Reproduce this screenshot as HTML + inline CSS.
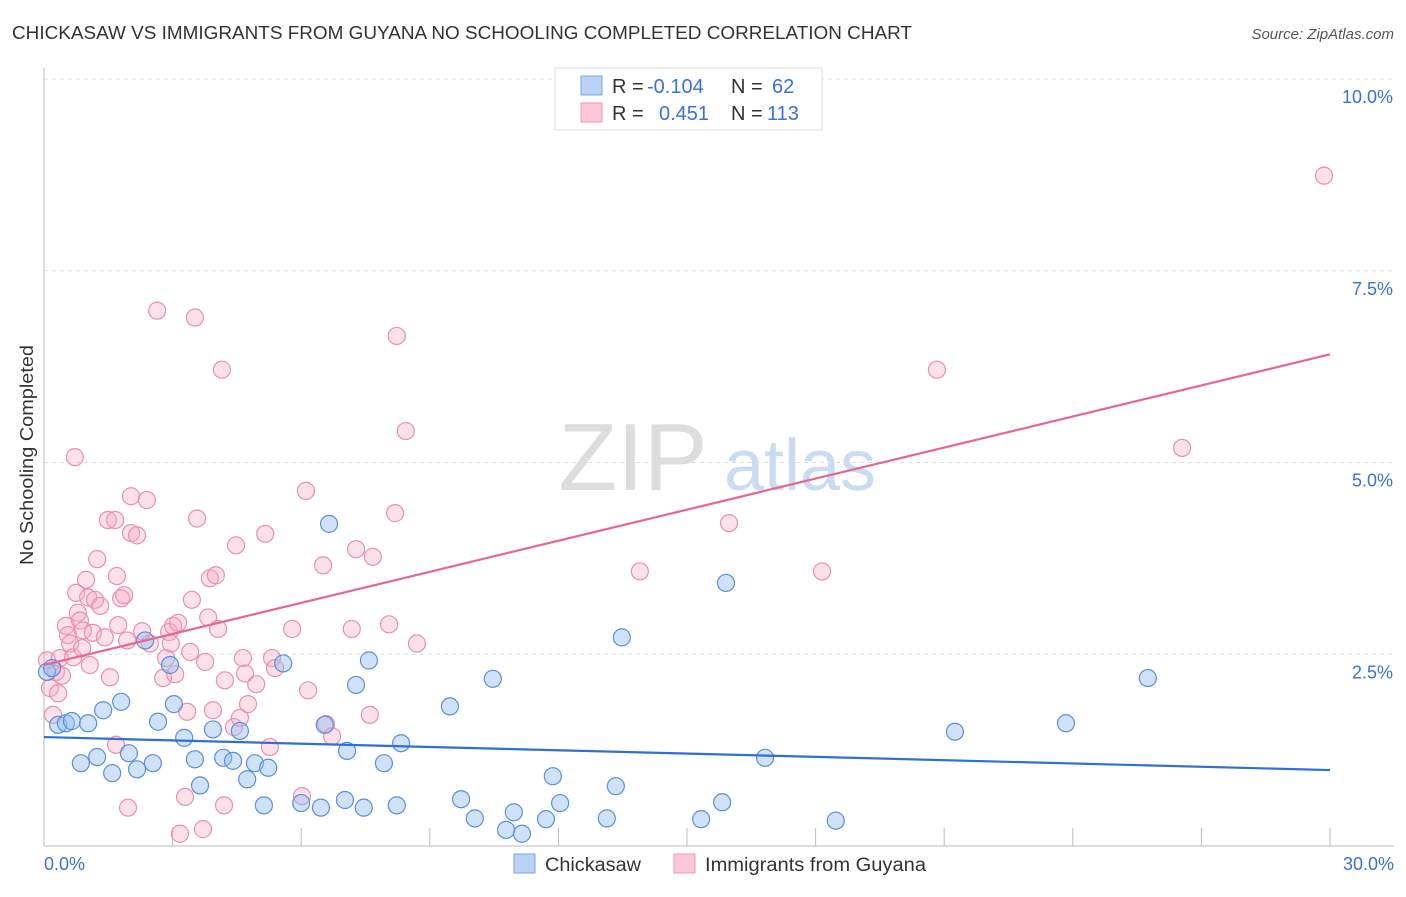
<!DOCTYPE html>
<html><head><meta charset="utf-8"><style>
body{margin:0;background:#fff;font-family:"Liberation Sans",sans-serif;}
svg text{font-family:"Liberation Sans",sans-serif;}
</style></head><body>
<svg id="chart" width="1406" height="892" xmlns="http://www.w3.org/2000/svg">
<text x="12" y="39" font-size="18" fill="#333" textLength="900" lengthAdjust="spacingAndGlyphs">CHICKASAW VS IMMIGRANTS FROM GUYANA NO SCHOOLING COMPLETED CORRELATION CHART</text>
<text x="1394" y="39" font-size="15" fill="#555" font-style="italic" text-anchor="end">Source: ZipAtlas.com</text>
<text transform="translate(33,565) rotate(-90)" font-size="18" fill="#333" textLength="220" lengthAdjust="spacingAndGlyphs">No Schooling Completed</text>
<g>
<text x="633" y="490" font-size="96" fill="#ddd" font-family="Liberation Serif" text-anchor="middle">ZIP</text>
<text x="800" y="490" font-size="72" fill="#c9dcf2" text-anchor="middle">atlas</text>
</g>
<g id="grid"></g><g id="axes"></g><g id="marks"></g>
<g>
<rect x="555" y="68" width="267" height="62" fill="#fff" stroke="#ddd"/>
<rect x="581" y="76" width="21" height="19" fill="#b8d3f5" stroke="#7aa6e6"/>
<rect x="581" y="103" width="21" height="19" fill="#fcc8d8" stroke="#ef9ab5"/>
<text x="612" y="93" font-size="20" fill="#333">R = </text><text x="647" y="93" font-size="20" fill="#3a72d8">-0.104</text>
<text x="731" y="93" font-size="20" fill="#333">N = </text><text x="772" y="93" font-size="20" fill="#3a72d8">62</text>
<text x="612" y="120" font-size="20" fill="#333">R = </text><text x="659" y="120" font-size="20" fill="#3a72d8">0.451</text>
<text x="731" y="120" font-size="20" fill="#333">N = </text><text x="767" y="120" font-size="20" fill="#3a72d8">113</text>
</g>
<g>
<rect x="514" y="854" width="21" height="19" fill="#b8d3f5" stroke="#7aa6e6"/>
<text x="545" y="871" font-size="19" fill="#333" textLength="96" lengthAdjust="spacingAndGlyphs">Chickasaw</text>
<rect x="674" y="854" width="21" height="19" fill="#fcc8d8" stroke="#ef9ab5"/>
<text x="705" y="871" font-size="19" fill="#333" textLength="221" lengthAdjust="spacingAndGlyphs">Immigrants from Guyana</text>
</g>
</svg>
<script>
const blueX=[0.07,0.19,0.33,0.51,0.65,0.86,1.03,1.24,1.38,1.59,1.80,1.98,2.17,2.36,2.54,2.66,2.94,3.03,3.27,3.52,3.64,3.94,4.18,4.41,4.57,4.74,4.92,5.13,5.23,5.58,6.00,6.46,6.55,6.65,7.02,7.07,7.28,7.46,7.58,7.93,8.23,8.33,9.47,9.73,10.05,10.47,10.78,10.96,11.15,11.71,11.87,12.04,13.13,13.34,13.48,15.33,15.82,15.91,16.82,18.47,21.25,23.84,25.75];
const blueY=[2.27,2.32,1.58,1.60,1.63,1.08,1.60,1.16,1.77,0.95,1.88,1.21,1.00,2.68,1.08,1.62,2.36,1.85,1.41,1.13,0.79,1.52,1.15,1.11,1.50,0.87,1.08,0.53,1.02,2.38,0.56,0.50,1.58,4.20,0.60,1.24,2.10,0.50,2.42,1.08,0.53,1.34,1.82,0.61,0.36,2.18,0.21,0.44,0.16,0.35,0.91,0.56,0.36,0.78,2.72,0.35,0.57,3.43,1.15,0.33,1.49,1.60,2.19];
const pinkX=[0.07,0.14,0.21,0.28,0.33,0.37,0.42,0.51,0.56,0.61,0.68,0.72,0.75,0.79,0.84,0.89,0.91,0.98,1.03,1.07,1.14,1.19,1.24,1.31,1.42,1.49,1.54,1.66,1.68,1.70,1.73,1.80,1.87,1.94,1.96,2.03,2.03,2.17,2.29,2.40,2.47,2.64,2.78,2.85,2.92,2.96,3.01,3.06,3.13,3.17,3.29,3.34,3.41,3.45,3.52,3.57,3.71,3.76,3.83,3.87,3.94,4.01,4.06,4.15,4.20,4.22,4.43,4.48,4.57,4.64,4.69,4.76,4.95,5.16,5.27,5.32,5.39,5.79,6.02,6.11,6.16,6.51,6.58,6.72,7.18,7.28,7.60,7.67,8.05,8.19,8.23,8.44,8.70,13.90,15.98,18.15,20.83,26.55,29.86];
const pinkY=[2.42,2.06,1.71,2.27,1.99,2.45,2.22,2.87,2.75,2.64,2.46,5.07,3.30,3.04,2.94,2.58,2.81,3.47,3.24,2.36,2.78,3.21,3.74,3.13,2.72,4.25,2.20,4.25,1.32,3.52,2.88,3.23,3.27,2.68,0.50,4.56,4.08,4.05,2.80,4.51,2.64,6.98,2.19,2.45,2.79,2.64,2.87,2.24,2.91,0.16,0.64,1.75,2.53,3.21,6.89,4.27,0.22,2.40,2.98,3.49,1.77,3.53,2.83,6.21,0.53,2.16,1.55,3.92,1.67,2.45,2.25,1.85,2.11,4.07,1.29,2.45,2.32,2.83,0.65,4.63,2.03,3.66,1.59,1.43,2.83,3.87,1.71,3.77,2.89,4.34,6.65,5.41,2.64,3.58,4.21,3.58,6.21,5.19,8.74];
const blueTrend=[1.42,0.99];
const pinkTrend=[2.36,6.41];
const yTicks=[2.5,5.0,7.5,10.0];
const yTickLabels=["2.5%","5.0%","7.5%","10.0%"];
const xTicks=[3,6,9,12,15,18,21,24,27,30];

const NS="http://www.w3.org/2000/svg";
const X0=44,X1=1330,Y0=846,Y10=79;
function sx(v){return X0+(X1-X0)*v/30;}
function sy(v){return Y0-(Y0-Y10)*v/10;}
function mk(tag,attrs,parent){const e=document.createElementNS(NS,tag);for(const k in attrs)e.setAttribute(k,attrs[k]);parent.appendChild(e);return e;}
const grid=document.getElementById('grid'),axes=document.getElementById('axes'),marks=document.getElementById('marks');
yTicks.forEach((t,i)=>{
  const l=mk('line',{x1:X0,x2:1394,y1:sy(t),y2:sy(t),stroke:'#ddd','stroke-dasharray':'4,4'},grid);
  
  
  const tx=mk('text',{x:1393,y:sy(t)+24,'font-size':18,fill:'#3a72d8','text-anchor':'end'},axes);
  tx.textContent=yTickLabels[i];
  
  
});
const ax=mk('line',{x1:X0,x2:X0,y1:68,y2:Y0,stroke:'#bbb'},axes);


const bx=mk('line',{x1:X0,x2:1394,y1:Y0,y2:Y0,stroke:'#bbb'},axes);


xTicks.forEach(t=>{
  const l=mk('line',{x1:sx(t),x2:sx(t),y1:Y0-18,y2:Y0,stroke:'#bbb'},axes);
  
  
});
const xl0=mk('text',{x:44,y:870,'font-size':18,fill:'#3a72d8'},axes);xl0.textContent='0.0%';


const xl1=mk('text',{x:1394,y:870,'font-size':18,fill:'#3a72d8','text-anchor':'end'},axes);xl1.textContent='30.0%';


pinkX.forEach((x,i)=>{
  const c=mk('circle',{cx:sx(x),cy:sy(pinkY[i]),r:8.5,fill:'rgba(246,170,196,0.35)',stroke:'#ec8fab','stroke-width':1.2},marks);
  
  
});
blueX.forEach((x,i)=>{
  const c=mk('circle',{cx:sx(x),cy:sy(blueY[i]),r:8.5,fill:'rgba(150,190,240,0.45)',stroke:'#5b8fdc','stroke-width':1.2},marks);
  
  
});
const pl=mk('line',{x1:sx(0),y1:sy(pinkTrend[0]),x2:sx(30),y2:sy(pinkTrend[1]),stroke:'#e8678f','stroke-width':2.2},marks);


const bl=mk('line',{x1:sx(0),y1:sy(blueTrend[0]),x2:sx(30),y2:sy(blueTrend[1]),stroke:'#2f6fd6','stroke-width':2.2},marks);


</script>
</body></html>
